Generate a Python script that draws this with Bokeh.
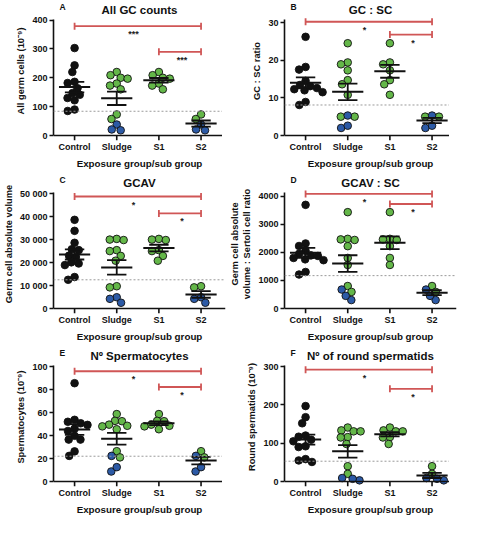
import numpy as np
from bokeh.plotting import figure
from bokeh.models import FixedTicker, Span, Range1d
from bokeh.layouts import gridplot
from bokeh.embed import file_html
from bokeh.resources import INLINE
from bokeh.core.properties import value

# ---------------- data ----------------
groups = ["Control", "Sludge", "S1", "S2"]

a_control = [303, 243, 220, 186, 182, 164, 147, 141, 130, 122, 85, 90]
a_s1 = [220, 200, 197, 209, 180, 160, 173]
a_s2_green = [73, 57]
a_s2_blue = [38, 18, 21]

b_control = [26.2, 18.2, 17.5, 14.5, 13.4, 13.1, 12.6, 12.3, 12.0, 11.5, 8.9, 8.1]
b_s1 = [24.5, 19.4, 18.9, 17.3, 14.7, 13.6, 10.8]
b_s2_green = [5.0, 5.0]
b_s2_blue = [5.3, 2.0, 2.6]

c_control = [38600, 33800, 28600, 25800, 25400, 23000, 22400, 20100, 19600, 18900, 12500, 13700]
c_s1 = [30300, 29800, 30000, 25400, 25000, 22900, 20800]
c_s2_green = [9700, 9200]
c_s2_blue = [4900, 2500, 4200]

d_control = [3690, 2315, 2225, 2050, 1950, 1890, 1870, 1800, 1750, 1720, 1300, 1210]
d_s1 = [3430, 2480, 2460, 2440, 2220, 1800, 1550]
d_s2_green = [800, 590]
d_s2_blue = [675, 300, 450]

e_control = [85.6, 52, 53.7, 50.7, 49.3, 46, 44, 39.8, 36.5, 36.5, 22.3, 26.2]
e_s1 = [58.7, 52.8, 52.5, 49.5, 48.5, 48.0, 45.5]
e_s2_green = [26.4, 21.0]
e_s2_blue = [22.3, 8.7, 12.5]

f_control = [197, 168, 152, 117, 120, 109, 105, 90, 92, 58.5, 51, 55]
f_s1 = [141, 131, 131, 133.5, 116, 115, 98]
f_s2_green = [40, 20]
f_s2_blue = [9, 3, 7]

letters = ["A", "B", "C", "D", "E", "F"]
titles = ["All GC counts", "GC : SC", "GCAV", "GCAV : SC", "Nº Spermatocytes", "Nº of round spermatids"]
ylabels = ["All germ cells (10⁻⁹)", "GC : SC ratio", "Germ cell absolute volume",
           "Germ cell absolute\nvolume : Sertoli cell ratio", "Spermatocytes (10⁻⁹)",
           "Round spermatids (10⁻⁹)"]
y_max = [402, 30.8, 50500, 4130, 101, 303]
y_ticks = [[0, 100, 200, 300, 400], [0, 10, 20, 30], [0, 10000, 20000, 30000, 40000, 50000],
           [0, 1000, 2000, 3000, 4000], [0, 20, 40, 60, 80, 100], [0, 100, 200, 300]]
c_tick_labels = ["0", "10 000", "20 000", "30 000", "40 000", "50 000"]
thresholds = [84, 8.1, 12500, 1170, 22, 53]
sig_top = [379, 30.2, 48750, 4080, 96, 292]
sig_low = [290, 26.8, 41400, 3720, 82.3, 242]
sig_marks = ["***", "*", "*", "*", "*", "*"]

panels = [
    (a_control, a_s1, a_s2_green, a_s2_blue),
    (b_control, b_s1, b_s2_green, b_s2_blue),
    (c_control, c_s1, c_s2_green, c_s2_blue),
    (d_control, d_s1, d_s2_green, d_s2_blue),
    (e_control, e_s1, e_s2_green, e_s2_blue),
    (f_control, f_s1, f_s2_green, f_s2_blue),
]

# ---------------- style ----------------
FONT = "Liberation Sans"
BLACK = "#111111"
GREEN = "#64b749"
BLUE = "#2c5aa6"
RED = "#d05656"
FW, FH, TOP, BOT = 172, 116, 18, 5
X0, X1 = -0.5, 3.58
DOT = 7.6
SEP = 7.0


def swarm(vals, xs, ys, d):
    order = sorted(range(len(vals)), key=lambda i: -vals[i])
    placed = []
    offs = [0.0] * len(vals)
    for i in order:
        py = vals[i] * ys
        cands = [0.0]
        for qx, qy in placed:
            dy = abs(py - qy)
            if dy < d:
                dx = (d * d - dy * dy) ** 0.5
                cands += [qx + dx, qx - dx]
        cands.sort(key=lambda c: (round(abs(c), 6), c))
        chosen = 0.0
        for c in cands:
            if all((c - qx) ** 2 + (py - qy) ** 2 >= d * d - 1e-6 for qx, qy in placed):
                chosen = c
                break
        placed.append((chosen, py))
        offs[i] = chosen / xs
    return offs


def make_panel(k):
    control, s1, s2g, s2b = panels[k]
    ymax = y_max[k]
    ys = FH / ymax
    xs = FW / (X1 - X0)
    ytop = ymax + TOP / ys
    ybot = -BOT / ys
    p = figure(frame_width=FW, frame_height=FH + TOP + BOT, output_backend="svg",
               toolbar_location=None, x_range=Range1d(X0, X1), y_range=Range1d(ybot, ytop),
               title=None, min_border_left=48, min_border_right=2, min_border_top=1,
               min_border_bottom=33)
    p.outline_line_color = None
    p.xgrid.visible = False
    p.ygrid.visible = False
    p.background_fill_color = "white"
    p.border_fill_color = "white"

    for ax in (p.xaxis[0], p.yaxis[0]):
        ax.axis_line_width = 1.6
        ax.axis_line_color = BLACK
        ax.major_tick_line_width = 1.6
        ax.major_tick_line_color = BLACK
        ax.major_tick_out = 4
        ax.major_tick_in = 0
        ax.minor_tick_line_color = None
        ax.major_label_text_font = FONT
        ax.major_label_text_font_style = "bold"
        ax.major_label_text_font_size = "9px"
        ax.major_label_text_color = BLACK
        ax.major_label_standoff = 2
        ax.axis_label_text_font = FONT
        ax.axis_label_text_font_style = "bold"
        ax.axis_label_text_color = BLACK
        ax.axis_label_standoff = 3

    # x axis: labels from the axis, line and ticks drawn at y = 0
    p.xaxis.ticker = FixedTicker(ticks=[0, 1, 2, 3])
    p.xaxis.axis_line_color = None
    p.xaxis.major_tick_line_color = None
    p.xaxis.major_tick_out = 0
    p.xaxis.major_label_standoff = 1
    p.xaxis.major_label_overrides = {i: g for i, g in enumerate(groups)}
    p.xaxis.axis_label = "Exposure group/sub group"
    p.xaxis.axis_label_text_font_size = "9.8px"

    p.yaxis.ticker = FixedTicker(ticks=y_ticks[k])
    p.yaxis.bounds = (0, ymax)
    if k == 2:
        p.yaxis.major_label_overrides = {t: l for t, l in zip(y_ticks[k], c_tick_labels)}
    p.yaxis.axis_label = ylabels[k]
    p.yaxis.axis_label_text_font_size = "9.3px"

    # title and panel letter inside the extended top strip
    p.text(x=[(X0 + X1) / 2], y=[ymax + 10 / ys], text=[titles[k]], text_align="center",
           text_baseline="middle", text_font=value(FONT), text_font_size="11.5px",
           text_font_style="bold", text_color=BLACK)
    p.text(x=[X0], y=[ymax + 13 / ys], x_offset=6, text=[letters[k]], text_align="left",
           text_baseline="middle", text_font=value(FONT), text_font_size="8.5px",
           text_font_style="bold", text_color=BLACK)

    # threshold line
    p.add_layout(Span(location=thresholds[k], dimension="width", line_color="#9a9a9a",
                      line_width=1, line_dash="2 2"))

    sludge = list(s1) + list(s2g) + list(s2b)
    sludge_c = [GREEN] * (len(s1) + len(s2g)) + [BLUE] * len(s2b)
    s2 = list(s2g) + list(s2b)
    s2_c = [GREEN] * len(s2g) + [BLUE] * len(s2b)
    sets = [(0, list(control), [BLACK] * len(control)),
            (1, sludge, sludge_c),
            (2, list(s1), [GREEN] * len(s1)),
            (3, s2, s2_c)]

    for cx, vals, cols in sets:
        offs = swarm(vals, xs, ys, SEP)
        p.scatter([cx + o for o in offs], vals, size=DOT, fill_color=cols,
                  line_color=BLACK, line_width=0.9)

    # x axis line at zero and downward ticks
    p.add_layout(Span(location=0, dimension="width", line_color=BLACK, line_width=1.6))
    cats = list(range(len(groups)))
    p.segment(x0=cats, x1=cats, y0=[0] * len(cats), y1=[ybot] * len(cats),
              line_color=BLACK, line_width=1.6)

    for cx, vals, cols in sets:
        arr = np.array(vals, dtype=float)
        m = arr.mean()
        se = arr.std(ddof=1) / np.sqrt(len(arr))
        p.segment(x0=[cx - 0.37], x1=[cx + 0.37], y0=[m], y1=[m], line_color=BLACK, line_width=2)
        p.segment(x0=[cx, cx - 0.23, cx - 0.23], x1=[cx, cx + 0.23, cx + 0.23],
                  y0=[m - se, m - se, m + se], y1=[m + se, m - se, m + se],
                  line_color=BLACK, line_width=1.8)

    # significance bars
    for (xa, xb, h, sx) in [(0, 3, sig_top[k], 1.4), (2, 3, sig_low[k], 2.55)]:
        p.segment(x0=[xa], x1=[xb], y0=[h], y1=[h], line_color=RED, line_width=1.8)
        p.scatter([xa, xb], [h, h], marker="dash", angle=np.pi / 2, size=7,
                  line_color=RED, line_width=1.8)
        p.text(x=[sx], y=[h], text=[sig_marks[k]], text_align="center", text_baseline="top",
               y_offset=3, text_font=value(FONT), text_font_size="9px", text_color="#222222",
               text_font_style="bold")
    return p


figs = [make_panel(k) for k in range(6)]
grid = gridplot([[figs[0], figs[1]], [figs[2], figs[3]], [figs[4], figs[5]]],
                toolbar_location=None)

open("out.html", "w").write(file_html(grid, INLINE))
